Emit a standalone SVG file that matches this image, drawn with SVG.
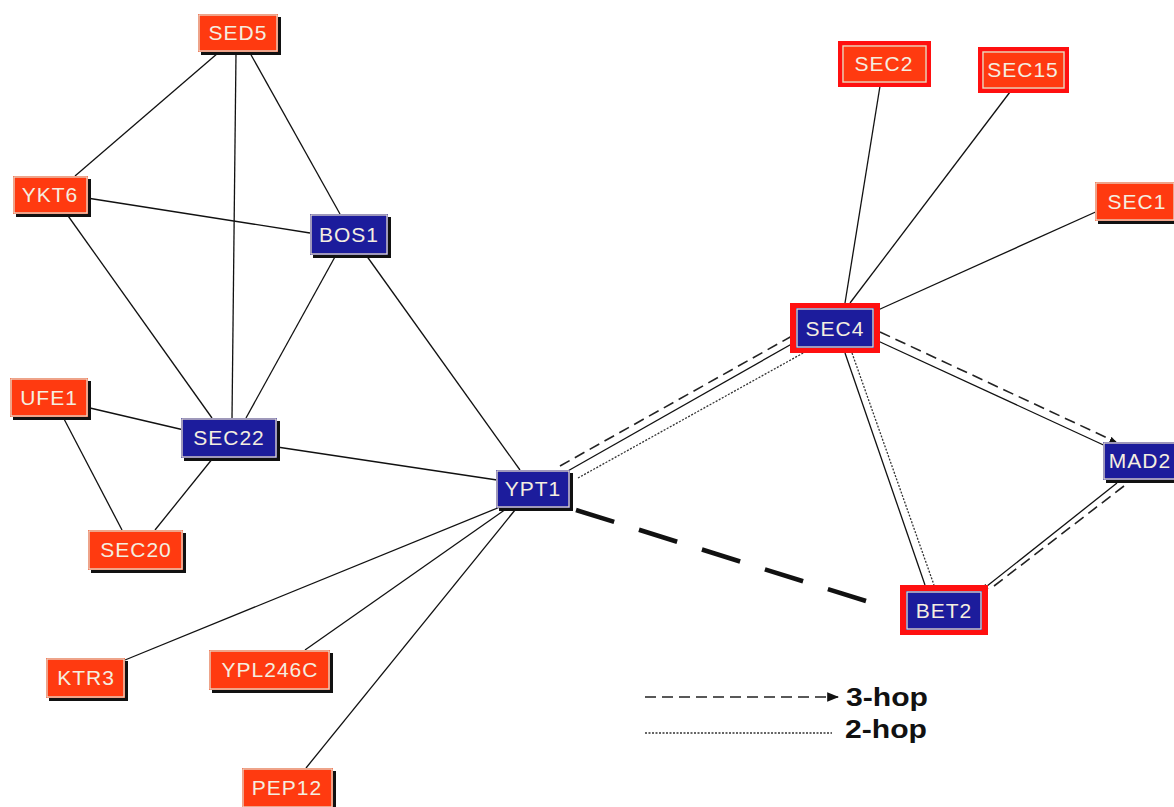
<svg xmlns="http://www.w3.org/2000/svg" width="1174" height="807" viewBox="0 0 1174 807">
<defs>
<style>
.sh{fill:#111}
.r{fill:#ff3a10}
.b{fill:#1c1c9c}
.hl{fill:none;stroke:#e6dccc;stroke-width:1.3}
.bd{fill:#ff1010}
.t{font-family:"Liberation Sans",Arial,sans-serif;font-size:21px;fill:#f4eee0;text-anchor:middle;letter-spacing:1px}
.e{stroke:#111;stroke-width:1.3;fill:none}
.d3{stroke:#222;stroke-width:1.6;fill:none;stroke-dasharray:11 6}
.d2{stroke:#333;stroke-width:1.3;fill:none;stroke-dasharray:2 1.5}
.lg{font-family:"Liberation Sans",Arial,sans-serif;font-size:26px;fill:#111;font-weight:bold}
</style>
<marker id="ah" viewBox="0 0 10 10" refX="9" refY="5" markerWidth="7" markerHeight="7" orient="auto" markerUnits="userSpaceOnUse">
<path d="M0,1 L10,5 L0,9 z" fill="#111"/>
</marker>
<marker id="ahl" viewBox="0 0 10 10" refX="9" refY="5" markerWidth="12" markerHeight="12" orient="auto" markerUnits="userSpaceOnUse">
<path d="M0,1 L10,5 L0,9 z" fill="#111"/>
</marker>
</defs>
<rect width="1174" height="807" fill="#fff"/>
<g id="connectors">
<line class="e" x1="218" y1="53" x2="75" y2="176"/>
<line class="e" x1="236" y1="53" x2="232" y2="418"/>
<line class="e" x1="250" y1="53" x2="340" y2="214"/>
<line class="e" x1="87" y1="198" x2="310" y2="233"/>
<line class="e" x1="66" y1="213" x2="212" y2="418"/>
<line class="e" x1="336" y1="255" x2="246" y2="418"/>
<line class="e" x1="366" y1="255" x2="520" y2="470"/>
<line class="e" x1="90" y1="408" x2="184" y2="430"/>
<line class="e" x1="63" y1="417" x2="122" y2="530"/>
<line class="e" x1="213" y1="458" x2="155" y2="530"/>
<line class="e" x1="277" y1="447" x2="497" y2="480"/>
<line class="e" x1="500" y1="507" x2="125" y2="660"/>
<line class="e" x1="506" y1="509" x2="305" y2="650"/>
<line class="e" x1="515" y1="510" x2="306" y2="768"/>
<line class="e" x1="845" y1="303" x2="880" y2="86"/>
<line class="e" x1="850" y1="303" x2="1010" y2="92"/>
<line class="e" x1="878" y1="310" x2="1100" y2="210"/>
<line class="d3" x1="560" y1="466" x2="792" y2="336"/>
<line class="e" x1="566" y1="472" x2="797" y2="341" marker-end="url(#ah)"/>
<line class="d2" x1="578" y1="478" x2="805" y2="352"/>
<line class="d3" x1="880" y1="332" x2="1116" y2="442" marker-end="url(#ah)"/>
<line class="e" x1="878" y1="341" x2="1110" y2="448"/>
<line class="e" x1="845" y1="353" x2="925" y2="585"/>
<line class="d2" x1="852" y1="353" x2="934" y2="585"/>
<line class="e" x1="1117" y1="483" x2="982" y2="590" marker-end="url(#ah)"/>
<line class="d3" x1="1124" y1="486" x2="994" y2="586"/>
<line x1="576" y1="510" x2="866" y2="601" stroke="#111" stroke-width="4.5" stroke-dasharray="40 26"/>
<line class="d3" x1="645" y1="697" x2="838" y2="697" marker-end="url(#ahl)"/>
<line class="d2" x1="645" y1="733" x2="832" y2="733"/>
</g>
<g id="legend">
<text class="lg" x="846" y="706" textLength="82" lengthAdjust="spacingAndGlyphs">3-hop</text>
<text class="lg" x="845" y="738" textLength="82" lengthAdjust="spacingAndGlyphs">2-hop</text>
</g>
<g id="SED5"><rect class="sh" x="201" y="17" width="80" height="38"/><rect class="r" x="198" y="14" width="80" height="38"/><rect class="hl" x="199" y="15" width="78" height="36"/><text class="t" x="238" y="40">SED5</text></g>
<g id="YKT6"><rect class="sh" x="16" y="179" width="75" height="38"/><rect class="r" x="13" y="176" width="75" height="38"/><rect class="hl" x="14" y="177" width="73" height="36"/><text class="t" x="50" y="202">YKT6</text></g>
<g id="BOS1"><rect class="sh" x="313" y="217" width="78" height="41"/><rect class="b" x="310" y="214" width="78" height="41"/><rect class="hl" x="311" y="215" width="76" height="39"/><text class="t" x="349" y="242">BOS1</text></g>
<g id="UFE1"><rect class="sh" x="13" y="381" width="78" height="39"/><rect class="r" x="10" y="378" width="78" height="39"/><rect class="hl" x="11" y="379" width="76" height="37"/><text class="t" x="49" y="405">UFE1</text></g>
<g id="SEC22"><rect class="sh" x="184" y="421" width="96" height="40"/><rect class="b" x="181" y="418" width="96" height="40"/><rect class="hl" x="182" y="419" width="94" height="38"/><text class="t" x="229" y="445">SEC22</text></g>
<g id="SEC20"><rect class="sh" x="91" y="533" width="95" height="40"/><rect class="r" x="88" y="530" width="95" height="40"/><rect class="hl" x="89" y="531" width="93" height="38"/><text class="t" x="136" y="557">SEC20</text></g>
<g id="YPT1"><rect class="sh" x="499" y="473" width="74" height="38"/><rect class="b" x="496" y="470" width="74" height="38"/><rect class="hl" x="497" y="471" width="72" height="36"/><text class="t" x="533" y="496">YPT1</text></g>
<g id="KTR3"><rect class="sh" x="49" y="661" width="79" height="40"/><rect class="r" x="46" y="658" width="79" height="40"/><rect class="hl" x="47" y="659" width="77" height="38"/><text class="t" x="86" y="685">KTR3</text></g>
<g id="YPL246C"><rect class="sh" x="212" y="653" width="121" height="40"/><rect class="r" x="209" y="650" width="121" height="40"/><rect class="hl" x="210" y="651" width="119" height="38"/><text class="t" x="270" y="677">YPL246C</text></g>
<g id="PEP12"><rect class="sh" x="245" y="771" width="91" height="40"/><rect class="r" x="242" y="768" width="91" height="40"/><rect class="hl" x="243" y="769" width="89" height="38"/><text class="t" x="287" y="795">PEP12</text></g>
<g id="SEC2"><rect class="bd" x="838" y="41" width="93" height="46"/><rect class="r" x="842" y="45" width="85" height="38"/><rect class="hl" x="843" y="46" width="83" height="36"/><text class="t" x="884" y="71">SEC2</text></g>
<g id="SEC15"><rect class="bd" x="978" y="47" width="91" height="46"/><rect class="r" x="982" y="51" width="83" height="38"/><rect class="hl" x="983" y="52" width="81" height="36"/><text class="t" x="1023" y="77">SEC15</text></g>
<g id="SEC1"><rect class="sh" x="1098" y="185" width="80" height="39"/><rect class="r" x="1095" y="182" width="80" height="39"/><rect class="hl" x="1096" y="183" width="78" height="37"/><text class="t" x="1137" y="209">SEC1</text></g>
<g id="SEC4"><rect class="bd" x="790" y="303" width="90" height="50"/><rect class="b" x="796" y="308" width="78" height="40"/><rect class="hl" x="797" y="309" width="76" height="38"/><text class="t" x="835" y="336">SEC4</text></g>
<g id="MAD2"><rect class="sh" x="1106" y="445" width="80" height="38"/><rect class="b" x="1103" y="442" width="80" height="38"/><rect class="hl" x="1104" y="443" width="78" height="36"/><text class="t" x="1140" y="468">MAD2</text></g>
<g id="BET2"><rect class="bd" x="900" y="585" width="88" height="50"/><rect class="b" x="906" y="591" width="76" height="39"/><rect class="hl" x="907" y="592" width="74" height="37"/><text class="t" x="944" y="618">BET2</text></g>
</svg>
